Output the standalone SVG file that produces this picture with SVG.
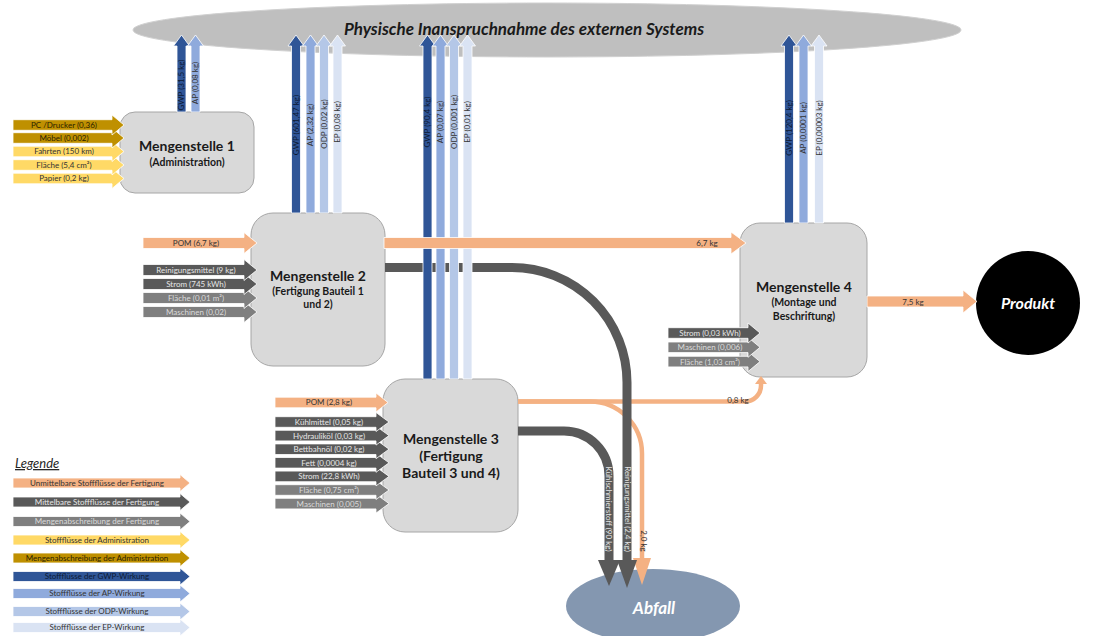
<svg xmlns="http://www.w3.org/2000/svg" width="1096" height="636" viewBox="0 0 1096 636">
<style>
  text { font-family: Lato, "Liberation Sans", sans-serif; }
  .box { fill: #d9d9d9; stroke: #a6a6a6; stroke-width: 1; }
  .ar { stroke: #ffffff; stroke-width: 0.8; }
  .or { fill: #f4b183; }
  .dk { fill: #595959; }
  .md { fill: #7f7f7f; }
  .yl { fill: #ffd966; }
  .gd { fill: #bf9000; }
  .gwp { fill: #2f5597; }
  .ap { fill: #8faadc; }
  .odp { fill: #b4c7e7; }
  .ep { fill: #dae3f3; }
  .t { font-size: 8px; text-anchor: middle; }
  .td { fill: #333333; }
  .tb { fill: #0d1a33; }
  .tl { fill: #e6e6e6; }
  .tm { fill: #dadada; }
  .tg { fill: #2b2200; }
  .h { font-size: 14px; font-weight: bold; fill: #1a1a1a; text-anchor: middle; }
  .s { font-size: 10.5px; font-weight: bold; fill: #1a1a1a; text-anchor: middle; }
  .line-dk { fill: none; stroke: #595959; stroke-width: 9; }
  .line-or { fill: none; stroke: #f4b183; stroke-width: 4.5; }
</style>

<!-- external system -->
<g id="extern">
  <ellipse cx="547" cy="30" rx="414" ry="27" fill="#bfbfbf" stroke="#d0d0d0" stroke-width="1"/>
  <text x="524" y="35" font-size="17" font-weight="bold" font-style="italic" fill="#1a1a1a" text-anchor="middle">Physische Inanspruchnahme des externen Systems</text>
</g>

<!-- cost centres -->
<g id="ms1">
  <rect class="box" x="120" y="112" width="134" height="81" rx="15"/>
  <text class="h" x="187" y="151">Mengenstelle 1</text>
  <text class="s" x="187" y="166">(Administration)</text>
</g>
<g id="ms2">
  <rect class="box" x="251" y="213" width="134" height="153" rx="22"/>
  <text class="h" x="318" y="281">Mengenstelle 2</text>
  <text class="s" x="318" y="295">(Fertigung Bauteil 1</text>
  <text class="s" x="318" y="308">und 2)</text>
</g>
<g id="ms3">
  <rect class="box" x="383" y="379" width="135" height="153" rx="22"/>
  <text class="h" x="451" y="444">Mengenstelle 3</text>
  <text class="h" x="451" y="461">(Fertigung</text>
  <text class="h" x="451" y="478">Bauteil 3 und 4)</text>
</g>
<g id="ms4">
  <rect class="box" x="740" y="223" width="127" height="154" rx="20"/>
  <text class="h" x="804" y="292">Mengenstelle 4</text>
  <text class="s" x="804" y="306">(Montage und</text>
  <text class="s" x="804" y="320">Beschriftung)</text>
</g>
<g id="produkt">
  <circle cx="1028" cy="303" r="52" fill="#000000"/>
  <text x="1028" y="309" font-size="16" font-weight="bold" font-style="italic" fill="#ffffff" text-anchor="middle">Produkt</text>
</g>
<g id="abfall">
  <ellipse cx="653" cy="606" rx="87" ry="37" fill="#8497b0"/>
  <text x="654" y="614" font-size="17" font-weight="bold" font-style="italic" fill="#ffffff" text-anchor="middle">Abfall</text>
</g>

<g id="connectors">
  <!-- POM flow out of Mengenstelle 3 -->
  <path class="line-or" d="M518,401.5 H590 A52,52 0 0 1 642,453.5 V560"/>
  <polygon class="or" points="633,558 651,558 642,585"/>
  <path class="line-or" d="M518,401.5 H745 A16,16 0 0 0 761,385.5 V383"/>
  <polygon class="or" points="755,384 767,384 761,376"/>
  <text class="t td" x="738" y="403">0,8 kg</text>
  <text class="t td" transform="translate(641,541) rotate(90)">2,0 kg</text>

  <!-- waste flows -->
  <path class="line-dk" d="M385,267.5 H512 A115,115 0 0 1 627,382.5 V562"/>
  <polygon class="dk" points="617,560 637,560 627,588"/>
  <path class="line-dk" d="M518,431 H564 A45,45 0 0 1 609,476 V562"/>
  <polygon class="dk" points="598,560 620,560 609,586"/>
  <text class="t tl" transform="translate(606.2,509) rotate(90)">Kühlschmierstoff (90 kg)</text>
  <text class="t tl" transform="translate(624.7,509) rotate(90)">Reinigungsmittel (2,4 kg)</text>

  <!-- impacts on the external system -->
  <polygon class="ar gwp" points="177,112 177,46 173.5,46 181.5,35 189.5,46 186,46 186,112"/>
  <polygon class="ar ap" points="191,112 191,46 187.5,46 195.5,35 203.5,46 200,46 200,112"/>
  <text class="t tb" transform="translate(184.3,85) rotate(-90)">GWP (31,5 kg)</text>
  <text class="t td" transform="translate(198.3,83) rotate(-90)">AP (0,08 kg)</text>

  <polygon class="ar gwp" points="291.5,213 291.5,46 288,46 296,35 304,46 300.5,46 300.5,213"/>
  <polygon class="ar ap" points="306,213 306,46 302.5,46 310.5,35 318.5,46 315,46 315,213"/>
  <polygon class="ar odp" points="319.5,213 319.5,46 316,46 324,35 332,46 328.5,46 328.5,213"/>
  <polygon class="ar ep" points="333,213 333,46 329.5,46 337.5,35 345.5,46 342,46 342,213"/>
  <text class="t tb" transform="translate(298.8,125) rotate(-90)">GWP (601,47 kg)</text>
  <text class="t td" transform="translate(313.3,125) rotate(-90)">AP (2,32 kg)</text>
  <text class="t td" transform="translate(326.8,124) rotate(-90)">ODP (0,02 kg)</text>
  <text class="t td" transform="translate(340.3,122) rotate(-90)">EP (0,08 kg)</text>

  <polygon class="ar gwp" points="423,379 423,46 419.5,46 427.5,35 435.5,46 432,46 432,379"/>
  <polygon class="ar ap" points="436,379 436,46 432.5,46 440.5,35 448.5,46 445,46 445,379"/>
  <polygon class="ar odp" points="449.5,379 449.5,46 446,46 454,35 462,46 458.5,46 458.5,379"/>
  <polygon class="ar ep" points="463,379 463,46 459.5,46 467.5,35 475.5,46 472,46 472,379"/>
  <text class="t tb" transform="translate(430.3,122) rotate(-90)">GWP (90,4 kg)</text>
  <text class="t td" transform="translate(443.3,122) rotate(-90)">AP (0,07 kg)</text>
  <text class="t td" transform="translate(456.8,122) rotate(-90)">ODP (0,001 kg)</text>
  <text class="t td" transform="translate(470.3,122) rotate(-90)">EP (0,01 kg)</text>

  <polygon class="ar gwp" points="784.5,223 784.5,46 781,46 789,35 797,46 793.5,46 793.5,223"/>
  <polygon class="ar ap" points="799,223 799,46 795.5,46 803.5,35 811.5,46 808,46 808,223"/>
  <polygon class="ar ep" points="814.5,223 814.5,46 811,46 819,35 827,46 823.5,46 823.5,223"/>
  <text class="t tb" transform="translate(791.8,128) rotate(-90)">GWP (120,4 kg)</text>
  <text class="t td" transform="translate(806.3,128) rotate(-90)">AP (0,0001 kg)</text>
  <text class="t td" transform="translate(821.8,128) rotate(-90)">EP (0,00003 kg)</text>

  <!-- main material flow -->
  <polygon class="ar or" points="384,237.5 731,237.5 731,232 746,243 731,254 731,248.5 384,248.5"/>
  <text class="t td" x="707" y="246">6,7 kg</text>
  <polygon class="ar or" points="867,296 963,296 963,290 977,301.5 963,313 963,307 867,307"/>
  <text class="t td" x="913" y="304.5">7,5 kg</text>

  <!-- inputs Mengenstelle 1 -->
  <polygon class="ar yl" points="13,173.2 112,173.2 112,168.5 124,178.5 112,188.5 112,183.8 13,183.8"/>
  <polygon class="ar yl" points="13,159.7 112,159.7 112,155 124,165 112,175 112,170.3 13,170.3"/>
  <polygon class="ar yl" points="13,146.2 112,146.2 112,141.5 124,151.5 112,161.5 112,156.8 13,156.8"/>
  <polygon class="ar gd" points="13,132.7 112,132.7 112,128 124,138 112,148 112,143.3 13,143.3"/>
  <polygon class="ar gd" points="13,119.7 112,119.7 112,115 124,125 112,135 112,130.3 13,130.3"/>
  <text class="t tg" x="64" y="127.9">PC /Drucker (0,36)</text>
  <text class="t tg" x="64" y="140.9">Möbel (0,002)</text>
  <text class="t td" x="64" y="154.4">Fahrten (150 km)</text>
  <text class="t td" x="64" y="167.9">Fläche (5,4 cm²)</text>
  <text class="t td" x="64" y="181.4">Papier (0,2 kg)</text>

  <!-- inputs Mengenstelle 2 -->
  <polygon class="ar or" points="143,237.5 244,237.5 244,232.5 257,243 244,253.5 244,248.5 143,248.5"/>
  <polygon class="ar md" points="143,306.5 244,306.5 244,301.5 257,312 244,322.5 244,317.5 143,317.5"/>
  <polygon class="ar md" points="143,292.5 244,292.5 244,287.5 257,298 244,308.5 244,303.5 143,303.5"/>
  <polygon class="ar dk" points="143,278.5 244,278.5 244,273.5 257,284 244,294.5 244,289.5 143,289.5"/>
  <polygon class="ar dk" points="143,264.5 244,264.5 244,259.5 257,270 244,280.5 244,275.5 143,275.5"/>
  <text class="t td" x="196" y="245.9">POM (6,7 kg)</text>
  <text class="t tl" x="196" y="272.9">Reinigungsmittel (9 kg)</text>
  <text class="t tl" x="196" y="286.9">Strom (745 kWh)</text>
  <text class="t tm" x="196" y="300.9">Fläche (0,01 m²)</text>
  <text class="t tm" x="196" y="314.9">Maschinen (0,02)</text>

  <!-- inputs Mengenstelle 3 -->
  <polygon class="ar or" points="275,397.2 376,397.2 376,393 388,402.5 376,412 376,407.8 275,407.8"/>
  <polygon class="ar md" points="275,498.3 376,498.3 376,494.1 389,503.6 376,513.1 376,508.9 275,508.9"/>
  <polygon class="ar md" points="275,484.7 376,484.7 376,480.5 389,490 376,499.5 376,495.3 275,495.3"/>
  <polygon class="ar dk" points="275,471.1 376,471.1 376,466.9 389,476.4 376,485.9 376,481.7 275,481.7"/>
  <polygon class="ar dk" points="275,457.5 376,457.5 376,453.3 389,462.8 376,472.3 376,468.1 275,468.1"/>
  <polygon class="ar dk" points="275,443.9 376,443.9 376,439.7 389,449.2 376,458.7 376,454.5 275,454.5"/>
  <polygon class="ar dk" points="275,430.3 376,430.3 376,426.1 389,435.6 376,445.1 376,440.9 275,440.9"/>
  <polygon class="ar dk" points="275,416.7 376,416.7 376,412.5 389,422 376,431.5 376,427.3 275,427.3"/>
  <text class="t td" x="329" y="405.4">POM (2,8 kg)</text>
  <text class="t tl" x="329" y="424.9">Kühlmittel (0,05 kg)</text>
  <text class="t tl" x="329" y="438.5">Hydrauliköl (0,03 kg)</text>
  <text class="t tl" x="329" y="452.1">Bettbahnöl (0,02 kg)</text>
  <text class="t tl" x="329" y="465.7">Fett (0,0004 kg)</text>
  <text class="t tl" x="329" y="479.3">Strom (22,8 kWh)</text>
  <text class="t tm" x="329" y="492.9">Fläche (0,75 cm²)</text>
  <text class="t tm" x="329" y="506.5">Maschinen (0,005)</text>

  <!-- inputs Mengenstelle 4 -->
  <polygon class="ar md" points="668,356.3 748,356.3 748,351.6 760,361.6 748,371.6 748,366.9 668,366.9"/>
  <polygon class="ar md" points="668,342 748,342 748,337.3 760,347.3 748,357.3 748,352.6 668,352.6"/>
  <polygon class="ar dk" points="668,327.7 748,327.7 748,323 760,333 748,343 748,338.3 668,338.3"/>
  <text class="t tl" x="710" y="335.9">Strom (0,03 kWh)</text>
  <text class="t tm" x="710" y="350.2">Maschinen (0,006)</text>
  <text class="t tm" x="710" y="364.5">Fläche (1,03 cm²)</text>
</g>

<!-- key -->
<g id="legende">
  <text x="15" y="468" font-size="13" font-style="italic" fill="#262626" text-decoration="underline">Legende</text>
  <polygon class="ar or" points="13,478 180,478 180,474.5 190,483 180,491.5 180,488 13,488"/>
  <polygon class="ar dk" points="13,497 180,497 180,493.5 190,502 180,510.5 180,507 13,507"/>
  <polygon class="ar md" points="13,516.5 180,516.5 180,513 190,521.5 180,530 180,526.5 13,526.5"/>
  <polygon class="ar yl" points="13,535 180,535 180,531.5 190,540 180,548.5 180,545 13,545"/>
  <polygon class="ar gd" points="13,553 180,553 180,549.5 190,558 180,566.5 180,563 13,563"/>
  <polygon class="ar gwp" points="13,571.5 180,571.5 180,568 190,576.5 180,585 180,581.5 13,581.5"/>
  <polygon class="ar ap" points="13,588.5 180,588.5 180,585 190,593.5 180,602 180,598.5 13,598.5"/>
  <polygon class="ar odp" points="13,606.5 180,606.5 180,603 190,611.5 180,620 180,616.5 13,616.5"/>
  <polygon class="ar ep" points="13,622.5 180,622.5 180,619 190,627.5 180,636 180,632.5 13,632.5"/>
  <text class="t td" x="97" y="485.9">Unmittelbare Stoffflüsse der Fertigung</text>
  <text class="t tl" x="97" y="504.9">Mittelbare Stoffflüsse der Fertigung</text>
  <text class="t tm" x="97" y="524.4">Mengenabschreibung der Fertigung</text>
  <text class="t td" x="97" y="542.9">Stoffflüsse der Administration</text>
  <text class="t tg" x="97" y="560.9">Mengenabschreibung der Administration</text>
  <text class="t tb" x="97" y="579.4">Stoffflüsse der GWP-Wirkung</text>
  <text class="t td" x="97" y="596.4">Stoffflüsse der AP-Wirkung</text>
  <text class="t td" x="97" y="614.4">Stoffflüsse der ODP-Wirkung</text>
  <text class="t td" x="97" y="630.4">Stoffflüsse der EP-Wirkung</text>
</g>
</svg>
